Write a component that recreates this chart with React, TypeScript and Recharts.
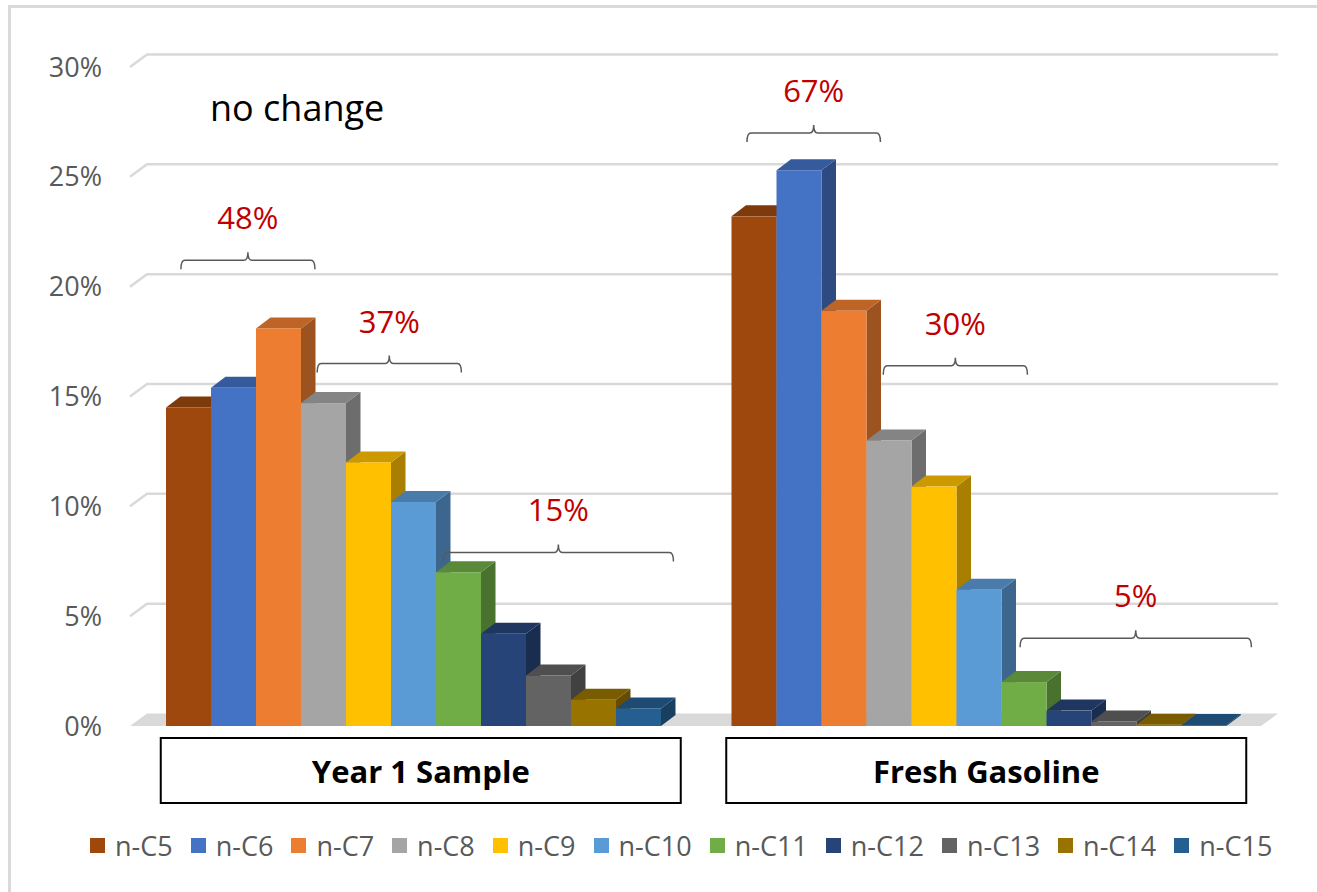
import React from 'react';
import { BarChart, Bar, XAxis, YAxis, CartesianGrid, Legend, ReferenceLine } from 'recharts';

const samples = ['Year 1 Sample', 'Fresh Gasoline'];
const carbons = ['n-C5', 'n-C6', 'n-C7', 'n-C8', 'n-C9', 'n-C10', 'n-C11', 'n-C12', 'n-C13', 'n-C14', 'n-C15'];
const year1 = [14.5, 15.4, 18.1, 14.7, 12.0, 10.2, 7.0, 4.2, 2.3, 1.2, 0.8];
const fresh = [23.2, 25.3, 18.9, 13.0, 10.9, 6.2, 2.0, 0.7, 0.2, 0.06, 0.04];
const colors = ['#9E480E', '#4472C4', '#ED7D31', '#A5A5A5', '#FFC000', '#5B9BD5', '#70AD47', '#264478', '#636363', '#997300', '#255E91'];
const yTicks = [0, 5, 10, 15, 20, 25, 30];

// group brackets: x as fraction of the plot width, level in %
const braceLabels = ['48%', '37%', '15%', '67%', '30%', '5%'];
const braceFrom = [0.045, 0.1655, 0.277, 0.5455, 0.666, 0.787];
const braceTo = [0.1635, 0.293, 0.4805, 0.6635, 0.7935, 0.9915];
const braceLevel = [21.2, 16.5, 7.9, 27.0, 16.4, 4.0];

const data = samples.map((name, i) => {
  const vals = i === 0 ? year1 : fresh;
  const row: Record<string, any> = { name };
  carbons.forEach((c, j) => (row[c] = vals[j]));
  return row;
});

const W = 1317;
const H = 892;
const MARGIN = { top: 67, right: 56, left: 0, bottom: 22 };
const XAXIS_H = 94;
const LEGEND_H = 50;
const FLOOR_Y = H - MARGIN.bottom - LEGEND_H - XAXIS_H;
const FONT = '"Open Sans", "Noto Sans", sans-serif';

const shade = (hex: string, f: number) => {
  const n = parseInt(hex.slice(1), 16);
  const r = Math.round(((n >> 16) & 255) * f);
  const g = Math.round(((n >> 8) & 255) * f);
  const b = Math.round((n & 255) * f);
  return `rgb(${r},${g},${b})`;
};

const Bar3D = (props: any) => {
  const { x, y, width, height, fill } = props;
  if (x == null || width == null) return null;
  const dx = 14.5;
  const dy = 11;
  const top = `M${x},${y} L${x + dx},${y - dy} L${x + width + dx},${y - dy} L${x + width},${y} Z`;
  const side = `M${x + width},${y} L${x + width + dx},${y - dy} L${x + width + dx},${y + height - dy} L${x + width},${y + height} Z`;
  return (
    <g>
      <path d={side} fill={shade(fill, 0.66)} />
      <path d={top} fill={shade(fill, 0.8)} />
      <rect x={x} y={y} width={width} height={height} fill={fill} />
    </g>
  );
};

const GX = 17;
const GY = 12.5;

const gridLine = (p: any) => {
  const { x1, x2, y1 } = p;
  if (y1 > FLOOR_Y - 1) {
    return (
      <path
        key={p.key}
        d={`M${x1},${y1} L${x1 + GX},${y1 - GY} L${x2 + GX},${y1 - GY} L${x2},${y1} Z`}
        fill="#d9d9d9"
      />
    );
  }
  return (
    <path
      key={p.key}
      d={`M${x1},${y1} L${x1 + GX},${y1 - GY} L${x2 + GX},${y1 - GY}`}
      stroke="#d9d9d9"
      strokeWidth={2.5}
      fill="none"
    />
  );
};

const Brace = ({ x1, x2, y1, label }: any) => {
  const xm = (x1 + x2) / 2;
  const y = y1;
  const d = `M${x1},${y + 9} Q${x1},${y} ${x1 + 4},${y} L${xm - 4},${y} Q${xm},${y} ${xm},${y - 8} Q${xm},${y} ${xm + 4},${y} L${x2 - 4},${y} Q${x2},${y} ${x2},${y + 9}`;
  return (
    <g>
      <path d={d} stroke="#595959" strokeWidth={1.5} fill="none" />
      <text x={xm} y={y - 43} textAnchor="middle" dominantBaseline="central" fontSize={31} fill="#C00000" fontFamily={FONT}>
        {label}
      </text>
    </g>
  );
};

const SampleTick = (p: any) => {
  const { x, y, payload } = p;
  return (
    <g>
      <rect x={x - 252} y={y + 12} width={520} height={65} fill="#fff" stroke="#000" strokeWidth={2} />
      <text x={x + 8} y={y + 45} textAnchor="middle" dominantBaseline="central" fontSize={31} fontWeight={700} fill="#000" fontFamily={FONT}>
        {payload.value}
      </text>
    </g>
  );
};

const LegendRow = ({ payload }: any) => {
  const items = [...(payload || [])].sort((a: any, b: any) => carbons.indexOf(a.value) - carbons.indexOf(b.value));
  return (
    <div
      style={{
        display: 'flex',
        flexWrap: 'nowrap',
        alignItems: 'center',
        height: LEGEND_H,
        width: W,
        paddingLeft: 90,
        boxSizing: 'border-box',
        fontSize: 27,
        color: '#595959',
        fontFamily: FONT,
        whiteSpace: 'nowrap',
      }}
    >
      {items.map((e: any) => (
        <div key={e.value} style={{ display: 'flex', alignItems: 'center', marginRight: 18, flexShrink: 0 }}>
          <span style={{ display: 'inline-block', width: 15, height: 15, background: e.color, marginRight: 10 }} />
          <span>{e.value}</span>
        </div>
      ))}
    </div>
  );
};

export default function App() {
  return (
    <div style={{ position: 'absolute', left: 0, top: 0, width: W, height: H, overflow: 'hidden', background: '#fff', fontFamily: FONT }}>
      <div style={{ position: 'absolute', left: 8, top: 5, width: 1400, height: 1000, border: '3px solid #d9d9d9' }} />
      <div style={{ position: 'absolute', left: 0, top: 0 }}>
        <BarChart width={W} height={H} data={data} margin={MARGIN} barCategoryGap={36} barGap={0}>
          <CartesianGrid vertical={false} horizontal={gridLine} />
          <XAxis dataKey="name" height={XAXIS_H} axisLine={false} tickLine={false} tickSize={0} tickMargin={0} tick={<SampleTick />} interval={0} />
          <XAxis xAxisId="n" type="number" domain={[0, 1]} hide allowDataOverflow />
          <YAxis
            width={130}
            domain={[0, 30]}
            ticks={yTicks}
            axisLine={false}
            tickLine={false}
            tickSize={0}
            tickMargin={28}
            tickFormatter={(v) => `${v}%`}
            tick={{ fill: '#595959', fontSize: 27, fontFamily: FONT }}
          />
          <Legend
            verticalAlign="bottom"
            align="left"
            height={LEGEND_H}
            wrapperStyle={{ overflow: 'visible' }}
            content={(p: any) => <LegendRow payload={p.payload} />}
          />
          {carbons.map((c, i) => (
            <Bar key={c} dataKey={c} name={c} fill={colors[i]} shape={<Bar3D />} isAnimationActive={false} />
          ))}
          {braceLabels.map((lab, i) => (
            <ReferenceLine
              key={lab}
              xAxisId="n"
              ifOverflow="visible"
              segment={[
                { x: braceFrom[i], y: braceLevel[i] },
                { x: braceTo[i], y: braceLevel[i] },
              ]}
              shape={(p: any) => <Brace {...p} label={lab} />}
            />
          ))}
        </BarChart>
      </div>
      <div style={{ position: 'absolute', left: 210, top: 86, fontSize: 36, lineHeight: '44px', color: '#000', fontFamily: FONT }}>
        no change
      </div>
    </div>
  );
}
